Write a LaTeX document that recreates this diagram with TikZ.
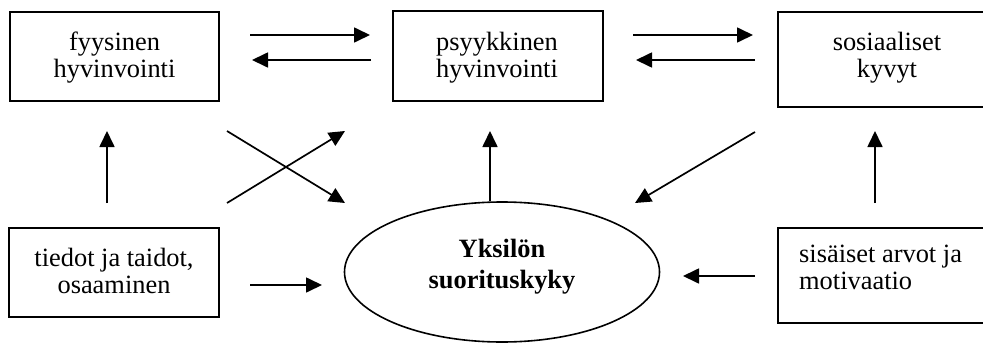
\documentclass[tikz,border=0pt]{standalone}
\usepackage{fontspec}
\setmainfont{Liberation Serif}
\usetikzlibrary{arrows.meta,shapes.geometric}
\begin{document}
\begin{tikzpicture}[x=1pt,y=-1pt,
  box/.style={draw, line width=1.7pt, inner sep=0pt},
  oval/.style={draw, ellipse, line width=1.6pt, inner sep=0pt},
  lbl/.style={inner sep=0pt, align=center, font=\fontsize{26.4}{27}\selectfont},
  boldlbl/.style={inner sep=0pt, align=center, font=\fontsize{26.4}{31}\selectfont\bfseries},
  link/.style={line width=1.7pt, -{Triangle[length=16pt,width=15pt]}}]
\useasboundingbox (0,0) rectangle (983,343);

% boxes and the central ellipse
\node[box, minimum width=209pt, minimum height=89pt] (fyys) at (114.5,56.5) {};
\node[box, minimum width=210pt, minimum height=90pt] (psyk) at (498,56) {};
\node[box, minimum width=218pt, minimum height=95pt] (sos) at (887,59.5) {};
\node[box, minimum width=210pt, minimum height=89pt] (tied) at (114,272.5) {};
\node[box, minimum width=218pt, minimum height=95pt] (sis) at (887,275.5) {};
\node[oval, minimum width=315pt, minimum height=140pt] (yks) at (502,272) {};

% texts
\node[lbl] (fyysT) at (114.5,57.35) {fyysinen\\hyvinvointi};
\node[lbl] (psykT) at (497,57.35) {psyykkinen\\hyvinvointi};
\node[lbl] (sosT) at (887,57.35) {sosiaaliset\\kyvyt};
\node[lbl] (tiedT) at (114,270.5) {tiedot ja taidot,\\osaaminen};
\node[lbl, align=left, anchor=west] (sisT) at (799,267.5) {sisäiset arvot ja\\motivaatio};
\node[boldlbl] (yksT) at (502,266.5) {Yksilön\\suorituskyky};

% free ends of the arrows
\coordinate (fp1) at (250,35);  \coordinate (fp2) at (370,35);
\coordinate (pf1) at (371,60);  \coordinate (pf2) at (252,60);
\coordinate (ps1) at (633,35);  \coordinate (ps2) at (753,35);
\coordinate (sp1) at (755,60);  \coordinate (sp2) at (636,60);
\coordinate (tf1) at (107,203); \coordinate (tf2) at (107,131);
\coordinate (yp2) at (490,131);
\coordinate (ss1) at (875,203); \coordinate (ss2) at (875,131);
\coordinate (fy1) at (227,131); \coordinate (fy2) at (345,203);
\coordinate (pt1) at (227,203); \coordinate (pt2) at (345,131);
\coordinate (sy1) at (755,132); \coordinate (sy2) at (635,203);
\coordinate (ty1) at (250,285); \coordinate (ty2) at (322,285);
\coordinate (iy1) at (755,276); \coordinate (iy2) at (683,276);

% connectors
\draw[link] (fp1) -- (fp2);
\draw[link] (pf1) -- (pf2);
\draw[link] (ps1) -- (ps2);
\draw[link] (sp1) -- (sp2);
\draw[link] (tf1) -- (tf2);
\draw[link] (yks.north -| yp2) -- (yp2);
\draw[link] (ss1) -- (ss2);
\draw[link] (fy1) -- (fy2);
\draw[link] (pt1) -- (pt2);
\draw[link] (sy1) -- (sy2);
\draw[link] (ty1) -- (ty2);
\draw[link] (iy1) -- (iy2);
\end{tikzpicture}
\end{document}
